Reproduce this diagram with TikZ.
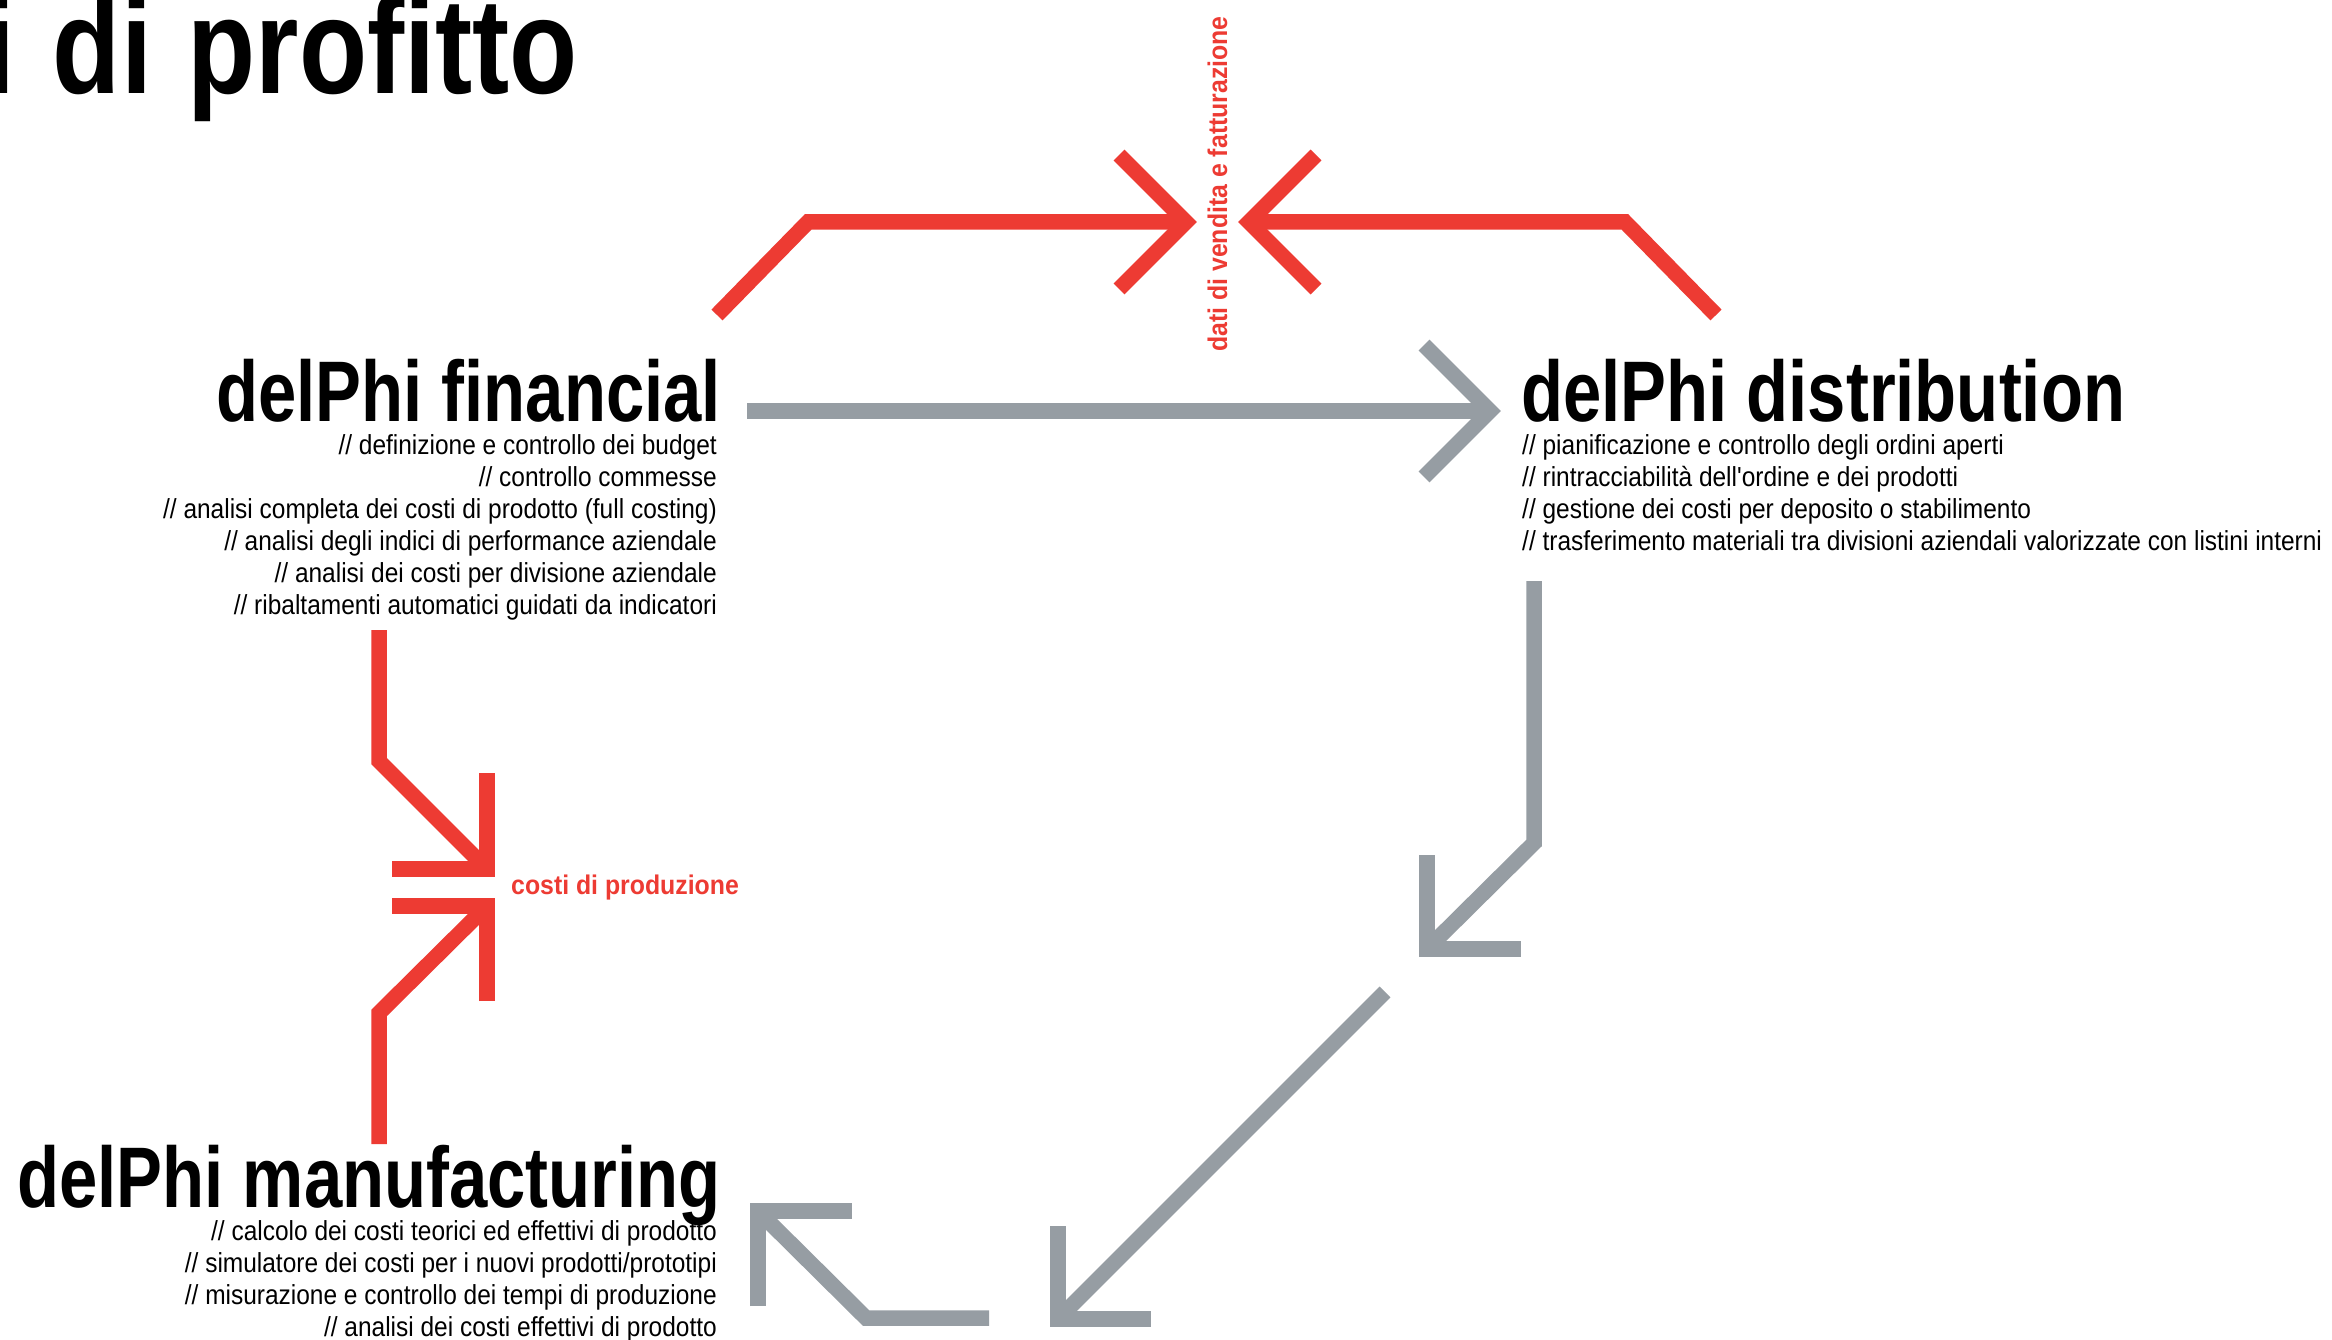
\documentclass[tikz,border=0pt]{standalone}
\usepackage{fontspec}
\newfontfamily\titlefont{Liberation Sans}[FakeStretch=0.82]
\newfontfamily\headfont{Liberation Sans}[FakeStretch=0.8]
\newfontfamily\bodyfont{Liberation Sans}[FakeStretch=0.89]
\newfontfamily\labfont{Liberation Sans}[FakeStretch=0.92]
\definecolor{myred}{RGB}{237,59,51}
\definecolor{mygray}{RGB}{150,157,163}
\begin{document}
\begin{tikzpicture}[x=1pt,y=-1pt,
  titlestyle/.style={font=\titlefont\bfseries\fontsize{136}{140}\selectfont, inner sep=0pt},
  head/.style={font=\headfont\bfseries\fontsize{86}{90}\selectfont, inner sep=0pt},
  body/.style={font=\bodyfont\fontsize{27.5}{32}\selectfont, inner sep=0pt},
  lab/.style={font=\labfont\bfseries\fontsize{27}{30}\selectfont, text=myred, inner sep=0pt},
  redline/.style={draw=myred, line width=15.5pt, miter limit=10},
  grayline/.style={draw=mygray, line width=15.5pt, miter limit=10},
]
\fill[white] (0,0) rectangle (2332,1340);
\useasboundingbox (0,0) rectangle (2332,1340);

% title
\node[titlestyle, anchor=base east] (title) at (578,94) {i\hspace{38pt}di\hspace{35.5pt}profitto};

% headings
\node[head, anchor=base east] (fin) at (721,421) {delPhi financial};
\node[head, anchor=base west] (dist) at (1521,421) {delPhi distribution};
\node[head, anchor=base east] (manu) at (721,1207) {delPhi manufacturing};

% body lines
\foreach \t [count=\i] in {{// definizione e controllo dei budget},
  {// controllo commesse},
  {// analisi completa dei costi di prodotto (full costing)},
  {// analisi degli indici di performance aziendale},
  {// analisi dei costi per divisione aziendale},
  {// ribaltamenti automatici guidati da indicatori}}
  \node[body, anchor=base east] (fin\i) at (717,{454+32*(\i-1)}) {\t};

\foreach \t [count=\i] in {{// pianificazione e controllo degli ordini aperti},
  {// rintracciabilità dell'ordine e dei prodotti},
  {// gestione dei costi per deposito o stabilimento},
  {// trasferimento materiali tra divisioni aziendali valorizzate con listini interni}}
  \node[body, anchor=base west] (dist\i) at (1522,{454+32*(\i-1)}) {\t};

\foreach \t [count=\i] in {{// calcolo dei costi teorici ed effettivi di prodotto},
  {// simulatore dei costi per i nuovi prodotti/prototipi},
  {// misurazione e controllo dei tempi di produzione},
  {// analisi dei costi effettivi di prodotto}}
  \node[body, anchor=base east] (manu\i) at (717,{1240+32*(\i-1)}) {\t};

% labels
\node[lab, rotate=90, anchor=base] (labdati) at (1227,184) {dati di vendita e fatturazione};
\node[lab, anchor=base west] (labcosti) at (511,894) {costi di produzione};

% coordinates
\coordinate (rA0) at (717,315); \coordinate (rA1) at (808,222); \coordinate (rAt) at (1186,222);
\coordinate (rAu) at (1119,155); \coordinate (rAd) at (1119,289);
\coordinate (rB0) at (1716,315); \coordinate (rB1) at (1625,222); \coordinate (rBt) at (1249,222);
\coordinate (rBu) at (1316,155); \coordinate (rBd) at (1316,289);

\coordinate (g0) at (747,411); \coordinate (gt) at (1490,411);
\coordinate (gu) at (1424,345); \coordinate (gd) at (1424,477);

\coordinate (d0) at (1534,581); \coordinate (d1) at (1534,843); \coordinate (dt) at (1427,949);
\coordinate (du) at (1427,855); \coordinate (dr) at (1521,949);

\coordinate (l0) at (1385,992); \coordinate (lt) at (1058,1319);
\coordinate (lu) at (1058,1226); \coordinate (lr) at (1151,1319);

\coordinate (b0) at (989,1318); \coordinate (b1) at (866,1318); \coordinate (bt) at (758,1211);
\coordinate (bd) at (758,1306); \coordinate (br) at (852,1211);

\coordinate (c0) at (379,630); \coordinate (c1) at (379,761); \coordinate (ct) at (487,869);
\coordinate (cu) at (487,773); \coordinate (cl) at (392,869);
\coordinate (e0) at (379,1144); \coordinate (e1) at (379,1013); \coordinate (et) at (487,906);
\coordinate (ed) at (487,1001); \coordinate (el) at (392,906);

% red connectors
\draw[redline] (rA0) -- (rA1) -- (rAt);
\draw[redline] (rAu) -- (rAt) -- (rAd);
\draw[redline] (rB0) -- (rB1) -- (rBt);
\draw[redline] (rBu) -- (rBt) -- (rBd);
\draw[redline] (c0) -- (c1) -- (ct);
\draw[redline] (cu) -- (ct) -- (cl);
\draw[redline] (e0) -- (e1) -- (et);
\draw[redline] (ed) -- (et) -- (el);

% gray connectors
\draw[grayline] (g0) -- (gt);
\draw[grayline] (gu) -- (gt) -- (gd);
\draw[grayline] (d0) -- (d1) -- (dt);
\draw[grayline] (du) -- (dt) -- (dr);
\draw[grayline] (l0) -- (lt);
\draw[grayline] (lu) -- (lt) -- (lr);
\draw[grayline] (b0) -- (b1) -- (bt);
\draw[grayline] (bd) -- (bt) -- (br);
\end{tikzpicture}
\end{document}
